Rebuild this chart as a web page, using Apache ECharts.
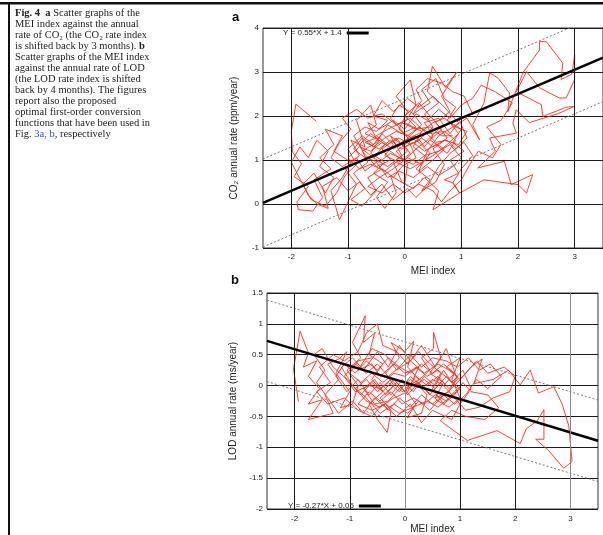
<!DOCTYPE html>
<html>
<head>
<meta charset="utf-8">
<script src="https://cdn.jsdelivr.net/npm/echarts@6/dist/echarts.min.js"></script>
<style>
html,body{margin:0;padding:0;background:#fff;}
#main{width:603px;height:535px;}
</style>
</head>
<body>
<div id="main"></div>
<script>
// ---- Data ----
const xTicks = [-2, -1, 0, 1, 2, 3];

// Panel a: MEI index vs CO2 annual rate (ppm/year)
const meiA = [-1.56,-1.92,-2.0,-1.98,-1.82,-1.95,-1.7,-1.9,-1.88,-1.62,-1.45,-1.6,-1.3,-1.5,-1.25,-1.4,-1.1,-1.25,-0.95,-1.1,
 -1.3,-1.15,-1.0,-0.85,-1.05,-0.8,-0.95,-0.7,-0.85,-0.6,-0.5,-0.7,-0.45,-0.6,-0.35,-0.55,-0.3,-0.5,-0.35,-0.15,
 -0.25,0.0,0.05,-0.15,0.1,-0.1,0.05,-0.15,0.1,0.2,0.0,0.3,0.15,0.4,0.2,0.45,0.3,0.55,0.7,0.5,
 0.75,0.55,0.8,0.65,0.92,0.72,0.49,0.4,0.6,0.35,0.5,0.25,0.0,-0.25,-0.05,-0.3,-0.55,-0.35,-0.6,-0.8,
 -0.65,-0.9,-0.7,-0.95,-0.75,-0.5,-0.65,-0.4,-0.2,-0.05,0.2,0.05,0.3,0.15,0.45,0.3,0.55,0.7,0.9,0.75,
 1.0,0.85,1.05,0.8,0.95,0.7,0.85,0.97,0.5,0.6,0.35,0.15,-0.05,-0.2,0.05,-0.15,-0.4,-0.25,-0.5,-0.75,
 -0.5,-0.3,-0.05,0.2,0.0,0.25,0.45,0.65,0.45,0.7,0.5,0.25,0.4,0.6,0.85,1.1,1.32,1.2,1.4,1.5,
 1.65,1.85,1.82,2.09,2.38,2.38,2.5,2.79,2.76,2.95,3.0,3.0,2.85,2.73,2.38,2.15,1.97,2.41,2.44,2.85,
 3.0,2.7,2.2,1.97,1.91,1.97,1.5,1.6,1.29,1.76,1.88,2.26,2.15,2.0,1.4,0.97,0.85,1.0,1.2,1.05,
 0.8,0.6,0.4,0.2,0.05,-0.2,-0.4,-0.6,-0.8,-1.0,-1.2,-1.45,-1.35,-1.55,-1.7,-2.0,
 -1.85,-1.7,-1.55,-1.35,-1.5,-1.25,-1.4,-1.6,-1.8,-1.65,-1.4,-1.2,-1.05,-0.85,-1.0,-0.75,-0.55,-0.4,-0.2,-0.35,
 -0.1,0.1,-0.05,0.2,0.35,0.5,0.35,0.6,0.8,0.95,0.7,0.5,0.25,0.05,-0.2,-0.4,-0.55,-0.3,-0.5,-0.7,
 -0.9,-0.75,-0.55,-0.3,-0.1,0.15,0.35,0.6,0.8,1.0,0.85,0.6,0.4,0.15,-0.1,-0.3,-0.5,-0.7,-0.85,-1.1,
 -1.3,-1.15,-0.95,-1.1,-0.85,-0.65,-0.4,-0.15,0.1,0.35,0.55,0.75,0.9,1.1,0.95,1.2,1.05,0.85,0.65,0.4,
 0.2,0.3,0.15,-0.1,-0.25,0.0,0.25,0.45,0.3,0.05,-0.2,-0.45,-0.65,-0.4,-0.2,0.0,0.25,0.5,0.65,0.8,
 1.0,1.15,1.3,1.55,1.7,1.45,1.7,1.9,1.6,1.35,1.2,1.0,
 0.8,0.6,0.4,0.2,0.0,-0.2,-0.45,-0.65,-0.5,-0.7,-0.45,-0.25,-0.05,0.15,0.35,0.55,0.75,0.9,0.7,0.45,
 0.25,0.05,-0.15,-0.35,-0.55,-0.75,-0.9,-0.7,-0.45,-0.25,0.0,0.2,0.4,0.6,0.8,0.95,0.75,0.5,0.3,0.1,
 -0.15,-0.35,-0.6,-0.8,-1.0,-0.8,-0.6,-0.4,-0.2,0.0,0.25,0.5,0.7,0.9,1.1,0.95,0.7,0.5,0.3,0.1,
 -0.1,-0.3,-0.5,-0.3,-0.05,0.2,0.45,0.65,0.85];
const co2Rate = [1.88,2.27,1.65,1.18,0.92,0.62,0.4,0.05,-0.13,-0.16,0.15,0.55,0.8,1.05,1.35,1.7,1.55,1.2,0.95,0.6,
 0.3,-0.36,0.05,0.45,0.8,1.1,1.45,1.3,1.9,2.25,1.8,1.6,1.45,1.15,0.95,0.7,0.5,0.15,-0.1,0.25,
 0.65,0.45,0.9,1.2,1.45,1.7,2.1,2.45,2.82,2.25,1.85,1.65,1.3,1.05,0.8,0.55,0.3,0.5,0.9,1.25,
 1.5,1.85,2.1,2.45,3.0,2.65,3.13,2.55,2.3,2.05,1.75,1.45,1.3,1.55,1.1,0.85,1.05,1.35,1.6,1.35,
 0.95,0.7,0.35,0.1,-0.05,0.3,0.6,0.8,0.6,0.85,1.05,1.5,1.8,2.05,2.3,2.6,2.85,2.4,2.2,1.9,
 1.7,1.4,1.2,1.0,0.7,0.55,0.48,0.25,-0.13,0.3,0.6,0.35,0.5,0.95,1.2,1.5,1.25,1.0,0.85,1.2,
 1.4,1.8,1.6,1.75,2.0,2.3,2.0,1.7,1.45,1.25,1.0,0.75,1.2,1.55,1.75,1.95,1.46,1.8,2.3,2.98,
 2.86,2.52,2.1,2.99,3.5,3.69,3.69,3.2,2.83,2.95,3.39,2.83,2.41,2.41,2.64,3.01,2.55,2.26,1.99,2.2,
 2.22,2.05,1.85,2.14,1.84,1.61,1.5,1.2,0.82,0.97,0.44,0.67,0.25,0.44,0.55,0.25,0.48,0.8,1.1,1.4,
 1.15,0.85,0.4,0.15,0.35,0.1,0.45,0.2,0.5,0.3,0.6,0.4,-0.1,0.0,0.2,0.95,
 1.3,1.05,1.45,1.2,0.85,0.6,0.25,0.7,0.45,0.1,-0.05,0.25,0.65,0.9,1.25,1.55,1.35,1.6,1.35,1.1,
 0.95,1.15,1.4,1.55,1.3,1.55,1.85,1.95,1.6,1.85,2.2,2.45,2.2,2.4,2.1,2.35,2.0,1.9,1.65,1.75,
 1.55,1.25,1.05,1.25,1.05,0.9,1.1,1.2,1.35,1.05,0.85,0.65,0.85,0.6,0.75,0.6,0.95,0.75,1.05,0.85,
 1.05,1.4,1.7,1.95,2.15,1.95,2.05,1.8,1.95,1.65,1.4,1.45,1.25,1.5,1.95,2.05,2.45,2.55,2.75,2.85,
 2.6,2.35,2.05,2.25,1.95,1.6,1.4,1.15,0.9,1.05,0.8,0.6,0.4,0.25,0.45,0.25,0.45,0.3,0.05,0.3,
 0.55,0.9,1.2,1.05,1.35,1.75,1.9,2.3,2.55,2.7,2.4,2.25,
 1.95,2.15,1.9,2.05,1.7,1.9,1.7,1.85,1.5,1.4,1.25,1.45,1.25,1.4,1.2,1.35,1.15,1.45,1.65,1.6,
 1.75,1.55,1.65,1.5,1.3,1.5,1.25,1.05,0.95,1.15,1.0,1.25,1.45,1.7,1.85,1.6,1.35,1.1,0.95,0.8,
 0.95,0.75,0.9,0.8,1.05,1.3,1.2,1.4,1.25,1.45,1.6,1.85,1.95,1.75,1.65,1.35,1.45,1.3,1.5,1.35,
 1.5,1.35,1.55,1.7,1.85,1.7,1.75,1.55,1.55];

// Panel b: MEI index vs LOD annual rate (ms/year)
const meiB = [-1.93,-2.02,-1.9,-1.75,-1.84,-1.6,-1.75,-1.55,-1.75,-1.5,-1.75,-1.3,-1.45,-1.2,-1.4,-1.2,-1.05,-1.25,-1.0,-1.17,
 -0.95,-0.85,-1.05,-0.8,-0.95,-0.72,-0.75,-0.55,-0.65,-0.4,-0.6,-0.4,-0.65,-0.5,-0.32,-0.25,-0.45,-0.2,-0.35,-0.1,
 -0.25,0.0,0.16,0.05,0.25,0.0,0.2,0.04,0.3,0.4,0.2,0.45,0.3,0.52,0.52,0.65,0.45,0.7,0.55,0.8,
 0.95,0.75,1.0,0.85,1.0,0.8,0.6,0.35,0.1,-0.1,-0.3,-0.5,-0.7,-0.9,-0.7,-0.45,-0.2,0.05,0.25,0.0,
 -0.2,-0.45,-0.6,-0.85,-0.6,-0.35,-0.15,0.1,0.35,0.6,0.8,1.0,1.2,1.4,1.25,1.6,1.88,2.09,2.27,2.42,
 2.7,2.85,2.97,3.03,2.88,2.6,2.37,2.52,2.52,2.4,2.2,2.09,1.67,1.13,0.64,0.85,1.1,1.45,1.7,1.5,
 1.2,1.05,0.9,0.7,0.5,0.65,0.4,0.25,0.05,-0.15,-0.4,-0.5,-0.7,-0.85,-1.1,-1.3,-1.55,-1.35,-1.6,-1.4,
 -1.1,-0.85,-0.6,-0.4,-0.15,0.1,0.3,0.5,0.85,1.0,
 1.2,1.05,0.85,0.7,0.55,0.35,0.15,-0.05,-0.25,-0.45,-0.65,-0.85,-1.05,-1.25,-1.1,-0.9,-0.7,-0.5,-0.3,-0.1,
 0.1,0.3,0.5,0.75,0.95,1.15,1.35,1.55,1.75,1.5,1.3,1.1,0.9,0.7,0.5,0.3,0.1,-0.1,-0.3,-0.55,
 -0.75,-0.95,-1.2,-1.4,-1.6,-1.45,-1.65,-1.5,-1.3,-1.05,-0.8,-0.6,-0.4,-0.2,0.0,0.2,0.4,0.6,0.8,0.95,
 0.75,0.55,0.3,0.1,-0.1,-0.3,-0.5,-0.75,-0.95,-1.15,-0.95,-0.7,-0.45,-0.2,0.05,0.25,0.45,0.65,0.9,1.1,
 1.3,1.5,1.8,2.0,1.9,1.6,1.35,1.1,0.85,
 0.65,0.45,0.25,0.05,-0.15,-0.35,-0.55,-0.75,-0.55,-0.3,-0.1,0.1,0.3,0.5,0.7,0.9,0.7,0.5,0.3,0.1,
 -0.1,-0.3,-0.5,-0.7,-0.9,-1.1,-0.9,-0.65,-0.45,-0.25,-0.05,0.15,0.35,0.55,0.75,0.95,0.75,0.55,0.35,0.15,
 -0.05,-0.25,-0.45,-0.65,-0.85,-0.6,-0.35,-0.1,0.15,0.4,0.6,0.8,1.0,0.8,0.6,0.4,0.2,0.0,-0.2,-0.4,
 -0.6,-0.8,-1.0,-0.85,-0.6];
const lodRate = [-0.26,0.27,0.88,0.53,0.3,0.4,0.15,-0.05,-0.3,-0.23,-0.55,-0.45,-0.15,0.1,0.35,0.43,0.55,0.2,-0.1,-0.36,
 -0.3,0.0,0.25,0.45,0.7,1.13,0.7,0.85,0.5,0.35,0.1,-0.1,-0.3,-0.55,-0.76,-0.4,-0.2,0.0,0.2,0.45,
 0.7,0.55,0.72,0.3,0.1,-0.05,-0.3,-0.52,-0.45,-0.15,0.05,0.25,0.45,0.6,0.86,0.45,0.2,0.05,-0.2,-0.1,
 0.15,0.3,0.45,0.1,-0.2,-0.35,-0.25,-0.05,0.15,-0.1,0.05,-0.1,0.1,-0.05,-0.25,-0.35,-0.2,-0.1,0.3,0.2,
 0.35,0.15,0.35,0.25,0.6,0.5,0.25,0.4,0.2,0.35,0.25,0.1,0.3,0.43,0.03,0.1,0.25,0.01,0.25,-0.12,
 -0.02,-0.3,-0.65,-1.23,-1.34,-1.05,-0.87,-0.87,-0.39,-0.57,-0.7,-0.94,-0.73,-0.89,-0.57,-0.4,-0.5,-0.55,-0.36,-0.15,
 -0.1,0.05,-0.15,-0.3,-0.05,0.2,0.4,0.55,0.35,0.55,0.65,1.0,0.85,0.55,0.4,0.5,0.3,0.05,-0.1,-0.3,
 -0.2,-0.4,-0.5,-0.3,-0.5,-0.3,-0.6,-0.4,-0.55,-0.3,
 -0.05,0.25,0.05,0.25,0.0,0.15,-0.1,0.1,-0.15,0.05,-0.15,0.1,-0.1,0.15,0.35,0.2,0.4,0.25,0.45,0.3,
 0.5,0.3,0.45,0.4,0.3,0.45,0.25,0.35,0.15,-0.05,0.1,-0.15,-0.3,-0.15,-0.3,-0.15,-0.35,-0.2,-0.4,-0.2,
 -0.45,-0.25,-0.45,-0.2,0.05,0.25,0.5,0.6,0.3,0.1,-0.15,0.05,-0.1,0.1,-0.1,0.15,0.0,0.15,-0.05,0.1,
 0.6,0.3,0.65,0.4,0.65,0.3,0.55,0.25,0.45,0.3,0.0,-0.2,-0.45,-0.3,-0.45,-0.25,-0.4,-0.2,0.0,0.2,
 0.4,0.2,0.3,0.15,-0.1,-0.2,-0.35,-0.4,-0.15,
 0.05,-0.15,0.05,-0.15,0.05,-0.15,0.1,-0.05,-0.3,-0.25,-0.05,0.1,-0.05,0.1,0.0,0.2,0.35,0.2,0.35,0.2,
 0.3,0.15,0.35,0.2,0.35,0.15,-0.1,0.0,-0.05,0.1,-0.1,0.0,0.1,-0.05,0.15,-0.05,-0.25,-0.15,-0.3,-0.2,
 -0.3,-0.1,-0.25,-0.1,-0.3,-0.4,-0.3,-0.45,-0.35,-0.25,-0.35,-0.2,-0.05,0.1,0.25,0.15,0.3,0.15,0.2,0.05,
 0.2,0.05,0.2,0.4,0.45];

// Fitted first-order conversion functions
const fitA = { slope: 0.55, intercept: 1.4, band: 1.0, label: 'Y = 0.55*X + 1.4' };
const fitB = { slope: -0.27, intercept: 0.05, band: 0.66, label: 'Y = -0.27*X + 0.05' };
const xRange = [-2.5, 3.5];

// ---- Build ----
function pairs(xs, ys) { return xs.map((x, i) => [x, ys[i]]); }
function fitLine(f, off) { return xRange.map(x => [x, f.slope * x + f.intercept + off]); }

const chart = echarts.init(document.getElementById('main'));
const axisFont = { fontFamily: 'Liberation Sans, Arial, sans-serif', fontSize: 8, color: '#222' };
const nameFont = { fontFamily: 'Liberation Sans, Arial, sans-serif', fontSize: 10, color: '#222' };

function xAxisDef(gi, gap, margin) {
  return {
    type: 'value', gridIndex: gi, min: xRange[0], max: xRange[1],
    name: 'MEI index', nameLocation: 'middle', nameGap: gap, nameTextStyle: nameFont,
    axisLine: { show: false }, axisTick: { show: false, customValues: xTicks },
    splitLine: { show: false },
    axisLabel: Object.assign({ customValues: xTicks, margin: margin }, axisFont)
  };
}
function yAxisDef(gi, min, max, interval, name, gap) {
  return {
    type: 'value', gridIndex: gi, min: min, max: max, interval: interval,
    name: name, nameLocation: 'middle', nameGap: gap, nameTextStyle: nameFont,
    axisLine: { show: false }, axisTick: { show: false },
    splitLine: { show: true, lineStyle: { color: '#1a1a1a', width: 1 } },
    axisLabel: Object.assign({ margin: 4 }, axisFont)
  };
}
function gridMarks(xi, yi, grayVals) {
  return {
    type: 'line', xAxisIndex: xi, yAxisIndex: yi, data: [], z: 1, silent: true,
    markLine: {
      silent: true, symbol: 'none', label: { show: false },
      lineStyle: { type: 'solid', color: '#1a1a1a', width: 1 },
      data: xTicks.map(v => ({ xAxis: v, lineStyle: { color: grayVals.indexOf(v) >= 0 ? '#8a8a8a' : '#1a1a1a', type: 'solid', width: 1 } }))
    }
  };
}
function dashLine(xi, yi, f, off) {
  return {
    type: 'line', xAxisIndex: xi, yAxisIndex: yi, data: fitLine(f, off), showSymbol: false, silent: true, z: 3,
    lineStyle: { color: '#777', width: 1, type: [2, 2] }
  };
}

const option = {
  animation: false,
  backgroundColor: '#fff',
  grid: [
    { left: 263, top: 28, width: 340, height: 220, show: true, borderColor: '#333', borderWidth: 1, containLabel: false },
    { left: 267, top: 293, width: 331, height: 220, show: true, borderColor: '#333', borderWidth: 1, containLabel: false }
  ],
  xAxis: [xAxisDef(0, 18, 5), xAxisDef(1, 15, 6)],
  yAxis: [
    yAxisDef(0, -1, 4, 1, 'CO\u2082 annual rate (ppm/year)', 24),
    yAxisDef(1, -2, 1.5, 0.5, 'LOD annual rate (ms/year)', 20)
  ],
  legend: [
    { data: [fitA.label], left: 283, top: 29, align: 'right', icon: 'rect', itemWidth: 22, itemHeight: 3, itemGap: 4,
      textStyle: Object.assign({}, axisFont), selectedMode: false, padding: 0 },
    { data: [fitB.label], left: 288, top: 502, align: 'right', icon: 'rect', itemWidth: 22, itemHeight: 3, itemGap: 4,
      textStyle: Object.assign({}, axisFont), selectedMode: false, padding: 0 }
  ],
  series: [
    gridMarks(0, 0, []),
    gridMarks(1, 1, [0, 3]),
    { type: 'line', name: 'CO2', xAxisIndex: 0, yAxisIndex: 0, data: pairs(meiA, co2Rate), showSymbol: false, z: 2,
      lineStyle: { color: '#ff2a18', width: 0.9, opacity: 1 } },
    { type: 'line', name: 'LOD', xAxisIndex: 1, yAxisIndex: 1, data: pairs(meiB, lodRate), showSymbol: false, z: 2,
      lineStyle: { color: '#ff2a18', width: 0.9, opacity: 1 } },
    dashLine(0, 0, fitA, fitA.band), dashLine(0, 0, fitA, -fitA.band),
    dashLine(1, 1, fitB, fitB.band), dashLine(1, 1, fitB, -fitB.band),
    { type: 'line', name: fitA.label, xAxisIndex: 0, yAxisIndex: 0, data: fitLine(fitA, 0), showSymbol: false, z: 4,
      itemStyle: { color: '#000' }, lineStyle: { color: '#000', width: 2.5 } },
    { type: 'line', name: fitB.label, xAxisIndex: 1, yAxisIndex: 1, data: fitLine(fitB, 0), showSymbol: false, z: 4,
      itemStyle: { color: '#000' }, lineStyle: { color: '#000', width: 2.5 } }
  ],
  graphic: [
    { type: 'rect', shape: { x: 0, y: 2, width: 603, height: 2.5 }, style: { fill: '#111' }, silent: true },
    { type: 'rect', shape: { x: 8, y: 3, width: 2, height: 532 }, style: { fill: '#111' }, silent: true },
    { type: 'text', left: 232, top: 11, style: { text: 'a', font: 'bold 13px Liberation Sans, Arial, sans-serif', fill: '#111' } },
    { type: 'text', left: 231, top: 274, style: { text: 'b', font: 'bold 13px Liberation Sans, Arial, sans-serif', fill: '#111' } }
  ]
};

// Caption
const capLines = [
  '{b|Fig. 4}  {b|a} Scatter graphs of the',
  'MEI index against the annual',
  'rate of CO\u2082 (the CO\u2082 rate index',
  'is shifted back by 3 months). {b|b}',
  'Scatter graphs of the MEI index',
  'against the annual rate of LOD',
  '(the LOD rate index is shifted',
  'back by 4 months). The figures',
  'report also the proposed',
  'optimal first-order conversion',
  'functions that have been used in',
  'Fig. {l|3a, b}, respectively'
];
capLines.forEach((t, i) => {
  option.graphic.push({
    type: 'text', left: 15, top: 8 + i * 11, silent: true,
    style: {
      text: t, fill: '#222', fontFamily: 'Liberation Serif, Times New Roman, serif', fontSize: 10.5,
      rich: {
        b: { fontWeight: 'bold', fontFamily: 'Liberation Serif, Times New Roman, serif', fontSize: 10.5, fill: '#222' },
        l: { fontFamily: 'Liberation Serif, Times New Roman, serif', fontSize: 10.5, fill: '#3b4fa0' }
      }
    }
  });
});

chart.setOption(option);
</script>
</body>
</html>
